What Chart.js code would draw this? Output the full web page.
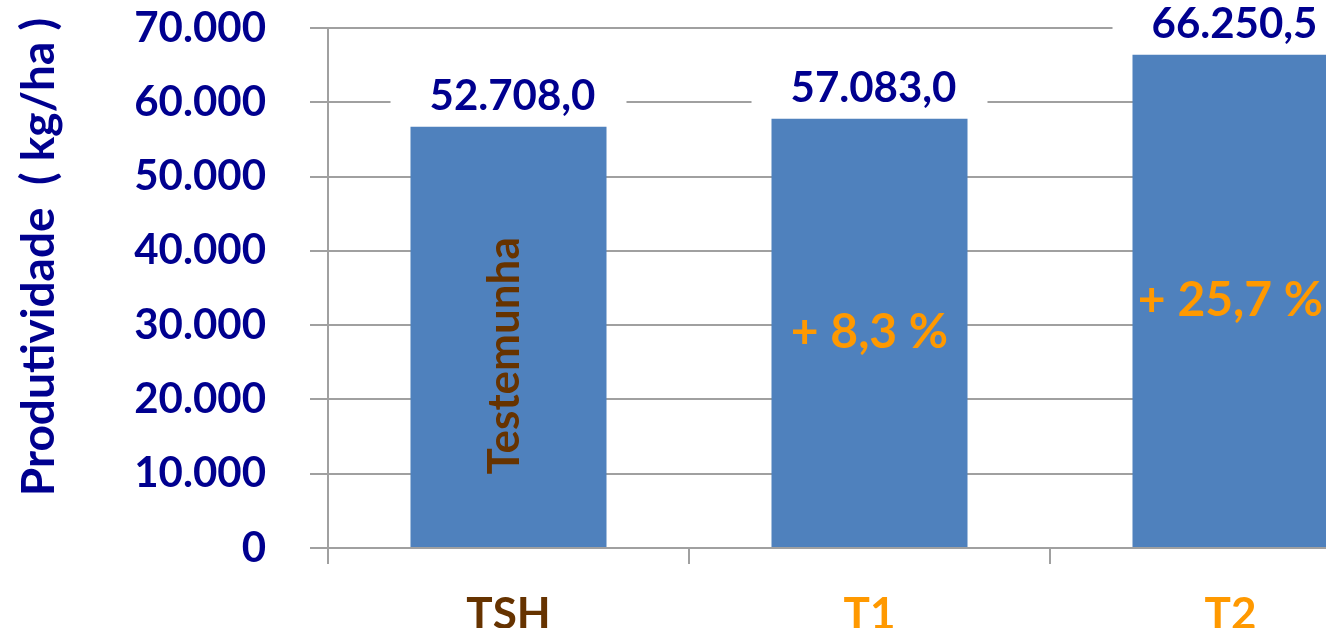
<!DOCTYPE html>
<html lang="pt">
<head>
    <meta charset="UTF-8">
    <title>Produtividade</title>
    <script src="https://cdn.jsdelivr.net/npm/chart.js"></script>
    <style>
        body { margin: 0; background: #fff; overflow: hidden; }
        #wrap { width: 1412px; height: 628px; }
    </style>
</head>
<body>
    <div id="wrap">
        <canvas id="prodChart" width="1412" height="628"></canvas>
    </div>

    <script>
        // Dados
        const categories = ['TSH', 'T1', 'T2'];
        const barValues = [56700, 57800, 66400];
        const valueLabels = ['52.708,0', '57.083,0', '66.250,5'];
        const innerLabels = ['Testemunha', '+ 8,3 %', '+ 25,7 %'];
        const yTickLabels = ['0', '10.000', '20.000', '30.000', '40.000', '50.000', '60.000', '70.000'];
        const axisTitle = 'Produtividade  ( kg/ha )';

        // Cores
        const navy = '#00008f';
        const orange = '#ff9900';
        const brown = '#663300';
        const gridGrey = '#a0a0a0';
        const catColors = [brown, orange, orange];
        const innerColors = [brown, orange, orange];

        // Plugin para rótulos com fundo branco e textos dentro das barras
        const labelPlugin = {
            id: 'labelPlugin',
            afterDatasetsDraw(chart) {
                const ctx = chart.ctx;
                const meta = chart.getDatasetMeta(0);
                ctx.save();
                ctx.textAlign = 'center';
                ctx.textBaseline = 'middle';

                meta.data.forEach((bar, i) => {
                    // valor acima da barra
                    ctx.font = 'bold 42px Lato';
                    const w = ctx.measureText(valueLabels[i]).width;
                    const cy = bar.y - 30;
                    ctx.fillStyle = '#ffffff';
                    ctx.fillRect(bar.x - w / 2 - 35, cy - 18, w + 70, 36);
                    ctx.fillStyle = navy;
                    ctx.fillText(valueLabels[i], bar.x + 4, cy);

                    // texto dentro da barra
                    const mid = (bar.y + bar.base) / 2;
                    ctx.fillStyle = innerColors[i];
                    if (i === 0) {
                        ctx.save();
                        ctx.translate(bar.x - 4, mid + 19);
                        ctx.rotate(-Math.PI / 2);
                        ctx.font = 'bold 44px Lato';
                        ctx.fillText(innerLabels[i], 0, 0);
                        ctx.restore();
                    } else {
                        ctx.font = 'bold 48px Lato';
                        ctx.fillText(innerLabels[i], bar.x, mid);
                    }
                });

                // título do eixo Y
                ctx.save();
                ctx.translate(39, 257);
                ctx.rotate(-Math.PI / 2);
                ctx.font = 'bold 46px Lato';
                ctx.fillStyle = navy;
                ctx.fillText(axisTitle, 0, 0);
                ctx.restore();

                ctx.restore();
            }
        };

        new Chart(document.getElementById('prodChart'), {
            type: 'bar',
            data: {
                labels: categories,
                datasets: [{
                    data: barValues,
                    backgroundColor: '#4f81bd',
                    borderWidth: 0,
                    categoryPercentage: 1,
                    barPercentage: 0.543
                }]
            },
            options: {
                responsive: false,
                animation: false,
                layout: { padding: { top: 28, right: 1, left: 0, bottom: 0 } },
                plugins: {
                    legend: { display: false },
                    tooltip: { enabled: false }
                },
                scales: {
                    x: {
                        grid: {
                            drawOnChartArea: false,
                            drawTicks: true,
                            tickLength: 16,
                            color: gridGrey,
                            lineWidth: 2,
                            offset: true
                        },
                        border: { display: true, color: gridGrey, width: 2 },
                        ticks: {
                            padding: 24,
                            font: { family: 'Lato', size: 44, weight: 'bold' },
                            color: (c) => catColors[c.index]
                        },
                        afterFit: (scale) => { scale.height = 80; }
                    },
                    y: {
                        min: 0,
                        max: 70000,
                        grid: {
                            color: gridGrey,
                            lineWidth: 2,
                            tickLength: 18
                        },
                        border: { display: true, color: gridGrey, width: 2 },
                        ticks: {
                            stepSize: 10000,
                            padding: 44,
                            font: { family: 'Lato', size: 42, weight: 'bold' },
                            color: navy,
                            callback: (v, i) => yTickLabels[i]
                        },
                        afterFit: (scale) => {
                            scale.width = 328;
                            scale.paddingTop = 0;
                            scale.paddingBottom = 0;
                        }
                    }
                }
            },
            plugins: [labelPlugin]
        });
    </script>
</body>
</html>
